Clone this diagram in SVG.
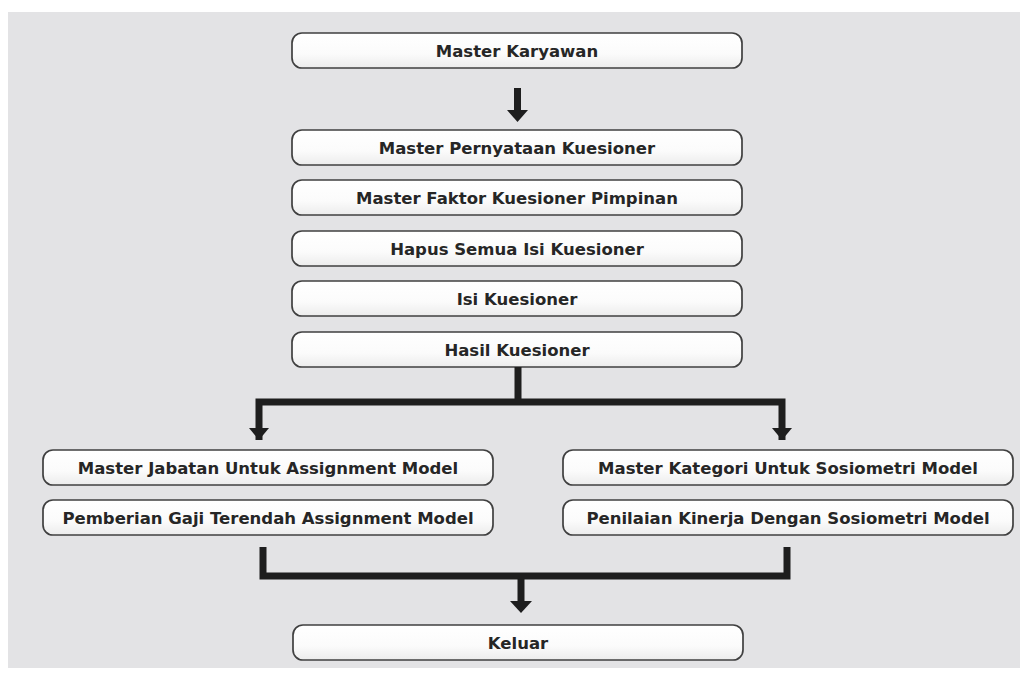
<svg xmlns="http://www.w3.org/2000/svg" width="1027" height="675" viewBox="0 0 1027 675">
<defs>
<linearGradient id="bg" x1="0" y1="0" x2="0" y2="1">
<stop offset="0" stop-color="#ffffff"/>
<stop offset="0.6" stop-color="#fbfbfb"/>
<stop offset="1" stop-color="#ececec"/>
</linearGradient>
</defs>
<style>
.box{fill:url(#bg);stroke:#404040;stroke-width:1.7}
.lbl{font-family:"DejaVu Sans",sans-serif;font-weight:bold;font-size:16.5px;fill:#262626;text-anchor:middle}
.ln{fill:none;stroke:#1e1e1e;stroke-width:7;stroke-linejoin:miter;stroke-linecap:butt}
.hd{fill:#1e1e1e}
</style>
<rect x="0" y="0" width="1027" height="675" fill="#ffffff"/>
<rect x="8" y="12" width="1012" height="656" fill="#e3e3e5"/>
<g id="n1"><rect class="box" x="292" y="33" width="450" height="35" rx="10"/><text class="lbl" x="517" y="56.5">Master Karyawan</text></g>
<g id="n2"><rect class="box" x="292" y="130" width="450" height="35" rx="10"/><text class="lbl" x="517" y="153.5">Master Pernyataan Kuesioner</text></g>
<g id="n3"><rect class="box" x="292" y="180" width="450" height="35" rx="10"/><text class="lbl" x="517" y="203.5">Master Faktor Kuesioner Pimpinan</text></g>
<g id="n4"><rect class="box" x="292" y="231" width="450" height="35" rx="10"/><text class="lbl" x="517" y="254.5">Hapus Semua Isi Kuesioner</text></g>
<g id="n5"><rect class="box" x="292" y="281" width="450" height="35" rx="10"/><text class="lbl" x="517" y="304.5">Isi Kuesioner</text></g>
<g id="n6"><rect class="box" x="292" y="332" width="450" height="35" rx="10"/><text class="lbl" x="517" y="355.5">Hasil Kuesioner</text></g>
<g id="n7"><rect class="box" x="43" y="450" width="450" height="35" rx="10"/><text class="lbl" x="268" y="473.5">Master Jabatan Untuk Assignment Model</text></g>
<g id="n8"><rect class="box" x="43" y="500" width="450" height="35" rx="10"/><text class="lbl" x="268" y="523.5">Pemberian Gaji Terendah Assignment Model</text></g>
<g id="n9"><rect class="box" x="563" y="450" width="450" height="35" rx="10"/><text class="lbl" x="788" y="473.5">Master Kategori Untuk Sosiometri Model</text></g>
<g id="n10"><rect class="box" x="563" y="500" width="450" height="35" rx="10"/><text class="lbl" x="788" y="523.5">Penilaian Kinerja Dengan Sosiometri Model</text></g>
<g id="n11"><rect class="box" x="293" y="625" width="450" height="35" rx="10"/><text class="lbl" x="518" y="648.5">Keluar</text></g>
<g id="connectors">
<path class="ln" d="M517.5 88 V111"/>
<polygon class="hd" points="507,110 528,110 517.5,122"/>
<path class="ln" d="M518 367 V402 M259 440 V402 H782 V440"/>
<polygon class="hd" points="249,428 269,428 259,440"/>
<polygon class="hd" points="772,428 792,428 782,440"/>
<path class="ln" d="M263 547 V576 H787 V547 M521 576 V603"/>
<polygon class="hd" points="510,601 532,601 521,613"/>
</g>
</svg>
